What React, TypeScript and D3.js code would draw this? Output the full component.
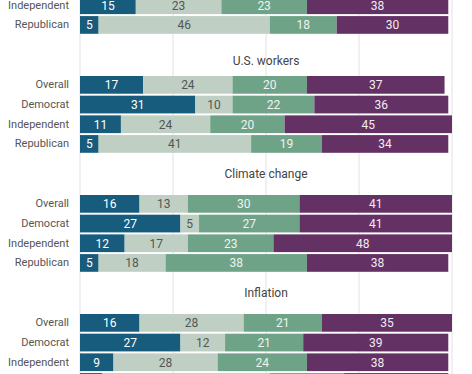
import { scaleBand, scaleLinear } from 'd3';

const parties = ['Overall', 'Democrat', 'Independent', 'Republican'];
const responses = ['r1', 'r2', 'r3', 'r4'];
const topics = ['', 'U.S. workers', 'Climate change', 'Inflation'];

// first topic is cut off at the top, only its last two rows show
const firstTopic = [null, null, [15, 23, 23, 38], [5, 46, 18, 30]];
const workers = [[17, 24, 20, 37], [31, 10, 22, 36], [11, 24, 20, 45], [5, 41, 19, 34]];
const climate = [[16, 13, 30, 41], [27, 5, 27, 41], [12, 17, 23, 48], [5, 18, 38, 38]];
const inflation = [[16, 28, 21, 35], [27, 12, 21, 39], [9, 28, 24, 38], [6, 45, 20, 28]];
const ticks = [0, 25, 50, 75, 100];

const values = [firstTopic, workers, climate, inflation];

const colors = ['#175b7d', '#bfcfc4', '#6fa388', '#643165'];
const textColors = ['#ffffff', '#555555', '#eef3ef', '#f1ecf1'];

export default function App() {
  const width = 472;
  const height = 374;

  const x = scaleLinear().domain([0, 100]).range([80, 452]);

  const gy = scaleBand<string>()
    .domain(topics)
    .range([-43, -43 + 119 * topics.length])
    .padding(0);

  const ry = scaleBand<string>()
    .domain(parties)
    .range([0, 76.8])
    .paddingInner(0.1)
    .paddingOuter(0);

  // title sits a bit closer to the bars in the second block
  const titleY = (gi: number) => (gi === 1 ? -15 : -21);

  return (
    <svg
      width={width}
      height={height}
      style={{ position: 'absolute', left: 0, top: 0, fontFamily: 'Roboto, sans-serif' }}
    >
      {ticks.map((t) => (
        <line key={t} x1={x(t)} x2={x(t)} y1={0} y2={height} stroke="#e2e2e2" strokeWidth={1} />
      ))}
      {topics.map((topic, gi) => {
        const top = gy(topic)!;
        return (
          <g key={gi} transform={`translate(0,${top})`}>
            {topic && (
              <text x={266} y={titleY(gi)} textAnchor="middle" dominantBaseline="central" fontSize={12} fill="#444">
                {topic}
              </text>
            )}
            {parties.map((p, pi) => {
              const row = values[gi][pi];
              if (!row) return null;
              const y0 = ry(p)!;
              const bh = ry.bandwidth();
              let acc = 0;
              return (
                <g key={p}>
                  <text x={69} y={y0 + bh / 2} textAnchor="end" dominantBaseline="central" fontSize={11} fill="#555">
                    {p}
                  </text>
                  {row.map((v, si) => {
                    const start = acc;
                    acc += v;
                    const x0 = x(start);
                    const x1 = x(start + v);
                    return (
                      <g key={responses[si]}>
                        <rect x={x0} y={y0} width={x1 - x0} height={bh} fill={colors[si]} />
                        <text
                          x={(x0 + x1) / 2}
                          y={y0 + bh / 2 + 0.5}
                          textAnchor="middle"
                          dominantBaseline="central"
                          fontSize={12}
                          fill={textColors[si]}
                        >
                          {v}
                        </text>
                      </g>
                    );
                  })}
                </g>
              );
            })}
          </g>
        );
      })}
    </svg>
  );
}
